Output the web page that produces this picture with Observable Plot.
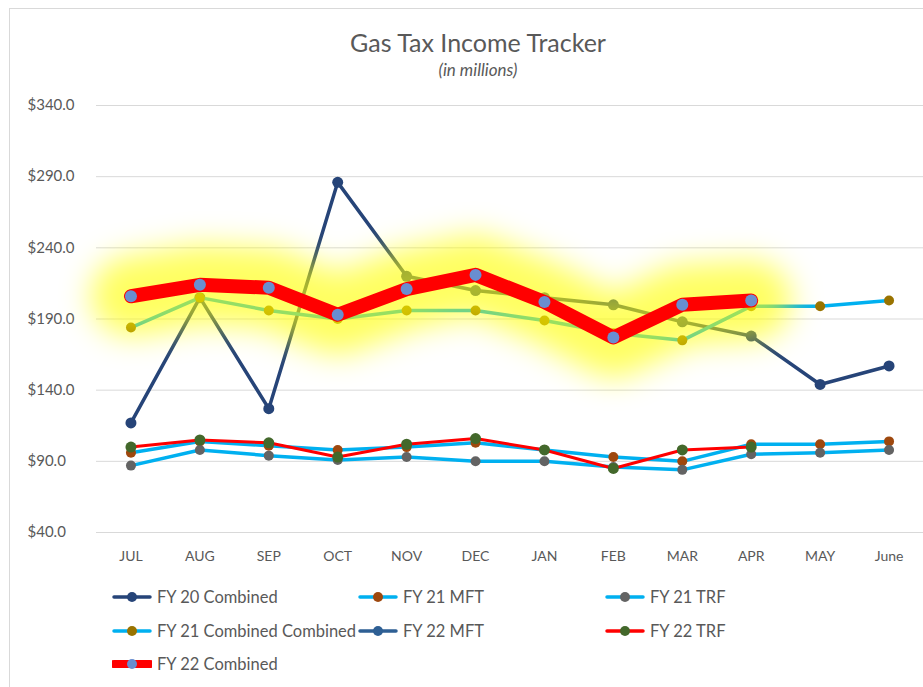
<!DOCTYPE html>
<html>
<head>
<meta charset="utf-8">
<script src="https://cdn.jsdelivr.net/npm/d3@7"></script>
<script src="https://cdn.jsdelivr.net/npm/@observablehq/plot@0.6"></script>
<style>
  body { margin: 0; background: #fff; font-family: Lato, "Open Sans", sans-serif; color: #595959; }
  #frame { position: absolute; left: 9px; top: 8px; width: 940px; height: 700px; border: 1px solid #d9d9d9; box-sizing: border-box; }
  #title { position: absolute; top: 27px; left: 0; width: 956px; text-align: center; font-size: 25px; line-height: 30px; color: #595959; }
  #subtitle { position: absolute; top: 60px; left: 0; width: 956px; text-align: center; font-size: 17px; line-height: 20px; font-style: italic; color: #595959; }
  #chart { position: absolute; top: 95px; left: 0; }
  #legend { position: absolute; top: 580px; left: 0; width: 923px; height: 100px; }
  .item { position: absolute; display: flex; align-items: center; font-size: 16.5px; line-height: 20px; color: #595959; white-space: nowrap; }
  .item svg { margin-right: 5px; }
</style>
</head>
<body>
<div id="frame"></div>
<div id="title">Gas Tax Income Tracker</div>
<div id="subtitle">(in millions)</div>
<div id="chart"></div>
<div id="legend"></div>
<script>
const months = ["JUL","AUG","SEP","OCT","NOV","DEC","JAN","FEB","MAR","APR","MAY","June"];
const yTicks = [40, 90, 140, 190, 240, 290, 340];

const fy20Combined = [117, 205, 127, 286, 220, 210, 205, 200, 188, 178, 144, 157];
const fy21MFT      = [96, 104, 101, 98, 100, 103, 98, 93, 90, 102, 102, 104];
const fy21TRF      = [87, 98, 94, 91, 93, 90, 90, 86, 84, 95, 96, 98];
const fy21Combined = [184, 205, 196, 190, 196, 196, 189, 180, 175, 199, 199, 203];
const fy22TRF      = [100, 105, 103, 93, 102, 106, 98, 85, 98, 100, null, null];
const fy22Combined = [206, 214, 212, 193, 211, 221, 202, 177, 200, 203, null, null];

const legendNames = ["FY 20 Combined", "FY 21 MFT", "FY 21 TRF", "FY 21 Combined Combined", "FY 22 MFT", "FY 22 TRF", "FY 22 Combined"];
const legendLine   = ["#264478", "#00B0F0", "#00B0F0", "#00B0F0", "#2E5F94", "#FF0000", "#FF0000"];
const legendMarker = ["#264478", "#9E480E", "#636363", "#997300", "#2E5F94", "#43682B", "#698ED0"];

function rows(values) {
  return months.map((m, i) => ({month: m, value: values[i]})).filter(d => d.value != null);
}
function series(values, lineColor, markerColor, lw, r) {
  const d = rows(values);
  return [
    Plot.line(d, {x: "month", y: "value", stroke: lineColor, strokeWidth: lw, strokeLinejoin: "round"}),
    Plot.dot(d, {x: "month", y: "value", fill: markerColor, r: r})
  ];
}

const plot = Plot.plot({
  width: 923,
  height: 480,
  marginLeft: 96,
  marginRight: 0,
  marginTop: 10,
  marginBottom: 43,
  style: {fontFamily: "Lato, 'Open Sans', sans-serif", fontSize: "14px", color: "#595959", background: "transparent"},
  x: {type: "point", domain: months, padding: 0.5, round: false, label: null},
  y: {domain: [40, 340], label: null},
  marks: [
    Plot.ruleY(yTicks, {stroke: "#d9d9d9", strokeWidth: 1}),
    Plot.axisY({ticks: yTicks, tickSize: 0, tickPadding: 0, textAnchor: "start", dx: -69, tickFormat: d => "$" + d.toFixed(1), label: null, fontSize: 15}),
    Plot.axisX({tickSize: 0, tickPadding: 19, label: null, fontSize: 14}),
    ...series(fy20Combined, "#264478", "#264478", 3.5, 5.5),
    ...series(fy21MFT, "#00B0F0", "#9E480E", 3.5, 5),
    ...series(fy21TRF, "#00B0F0", "#636363", 3.5, 5),
    ...series(fy21Combined, "#00B0F0", "#997300", 3.5, 5),
    ...series(fy22TRF, "#FF0000", "#43682B", 3, 5.5),
    Plot.line(rows(fy22Combined), {x: "month", y: "value", stroke: "#FFFF01", strokeWidth: 80, strokeOpacity: 0.62, strokeLinejoin: "round", strokeLinecap: "round"}),
    Plot.line(rows(fy22Combined), {x: "month", y: "value", stroke: "#FF0000", strokeWidth: 14, strokeLinejoin: "round", strokeLinecap: "round"}),
    Plot.dot(rows(fy22Combined), {x: "month", y: "value", fill: "#698ED0", r: 6})
  ]
});

// blur filter for the glow (yellow halo round the FY 22 Combined line)
const ns = "http://www.w3.org/2000/svg";
const defs = document.createElementNS(ns, "defs");
const filter = document.createElementNS(ns, "filter");
filter.setAttribute("id", "glowBlur");
filter.setAttribute("filterUnits", "userSpaceOnUse");
filter.setAttribute("x", "0");
filter.setAttribute("y", "0");
filter.setAttribute("width", "923");
filter.setAttribute("height", "480");
const blur = document.createElementNS(ns, "feGaussianBlur");
blur.setAttribute("stdDeviation", "15");
filter.appendChild(blur);
defs.appendChild(filter);
plot.insertBefore(defs, plot.firstChild);
plot.querySelectorAll('[stroke="#FFFF01"]').forEach(g => g.setAttribute("filter", "url(#glowBlur)"));

document.getElementById("chart").appendChild(plot);

// legend
const legendPos = [[112, 597], [358, 597], [605, 597], [112, 631], [358, 631], [605, 631], [112, 664]];
const legend = document.getElementById("legend");
legendNames.forEach((name, i) => {
  const div = document.createElement("div");
  div.className = "item";
  div.style.left = legendPos[i][0] + "px";
  div.style.top = (legendPos[i][1] - 580 - 10) + "px";
  const thick = i === 6 ? 8 : 3.5;
  div.innerHTML = `<svg width="40" height="20"><line x1="2" x2="38" y1="10" y2="10" stroke="${legendLine[i]}" stroke-width="${thick}" stroke-linecap="round"/><circle cx="20" cy="10" r="5" fill="${legendMarker[i]}"/></svg><span>${name}</span>`;
  legend.appendChild(div);
});
</script>
</body>
</html>
